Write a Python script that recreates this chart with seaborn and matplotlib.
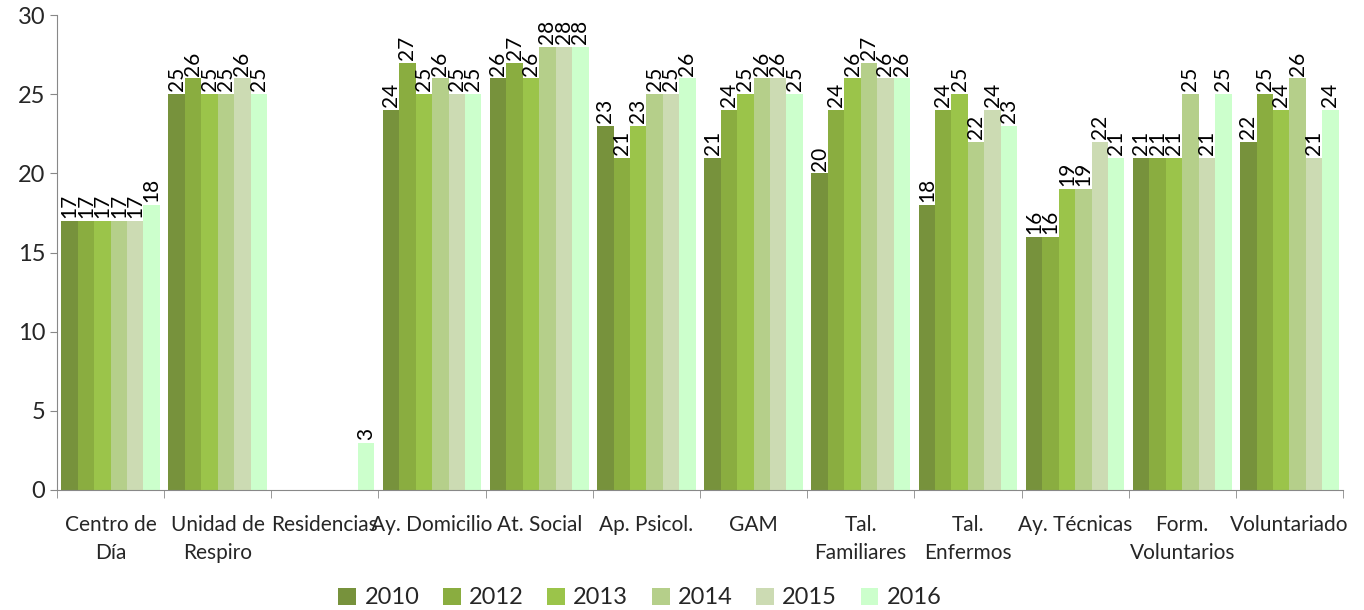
import numpy as np
import pandas as pd
import matplotlib
matplotlib.use("Agg")
import matplotlib.pyplot as plt
import seaborn as sns

categories = ["Centro de\nDía", "Unidad de\nRespiro", "Residencias", "Ay. Domicilio",
              "At. Social", "Ap. Psicol.", "GAM", "Tal.\nFamiliares", "Tal.\nEnfermos",
              "Ay. Técnicas", "Form.\nVoluntarios", "Voluntariado"]
years = ["2010", "2012", "2013", "2014", "2015", "2016"]
v2010 = [17, 25, np.nan, 24, 26, 23, 21, 20, 18, 16, 21, 22]
v2012 = [17, 26, np.nan, 27, 27, 21, 24, 24, 24, 16, 21, 25]
v2013 = [17, 25, np.nan, 25, 26, 23, 25, 26, 25, 19, 21, 24]
v2014 = [17, 25, np.nan, 26, 28, 25, 26, 27, 22, 19, 25, 26]
v2015 = [17, 26, np.nan, 25, 28, 25, 26, 26, 24, 22, 21, 21]
v2016 = [18, 25, 3, 25, 28, 26, 25, 26, 23, 21, 25, 24]
series = [v2010, v2012, v2013, v2014, v2015, v2016]
colors = ["#77923C", "#8AAD40", "#9BC44A", "#B5CF8A", "#CCDBB3", "#CCFFCC"]

rows = []
for y, vals in zip(years, series):
    for c, v in zip(categories, vals):
        rows.append({"cat": c, "year": y, "value": v})
df = pd.DataFrame(rows)

sns.set_style("white")
plt.rcParams["font.family"] = ["Lato", "DejaVu Sans"]

fig = plt.figure(figsize=(13.64, 6.10), dpi=100)
ax = fig.add_axes([57/1364, 1-490/610, (1343-57)/1364, 475/610])
sns.barplot(data=df, x="cat", y="value", hue="year", order=categories,
            hue_order=years, palette=colors, width=0.92, ax=ax,
            saturation=1, errorbar=None, legend=True, linewidth=0)

for cont in ax.containers:
    labels = ["" if np.isnan(v) else f"{v:.0f}" for v in cont.datavalues]
    ax.bar_label(cont, labels=labels, rotation=90, padding=2, fontsize=15, color="black")

ax.set_ylim(0, 30)
ax.set_xlim(-0.5, 11.5)
ax.set_yticks(range(0, 31, 5))
ax.tick_params(axis="y", labelsize=17, length=5, color="#888888", direction="out", left=True)
ax.set_xticks(np.arange(len(categories)))
ax.set_xticklabels(categories, fontsize=15, linespacing=1.5)
ax.set_xticks(np.arange(-0.5, 12, 1), minor=True)
ax.tick_params(axis="x", which="major", length=0, pad=18)
ax.tick_params(axis="x", which="minor", length=6, color="#888888", bottom=True)
ax.set_xlabel("")
ax.set_ylabel("")
for s in ["top", "right"]:
    ax.spines[s].set_visible(False)
for s in ["left", "bottom"]:
    ax.spines[s].set_color("#888888")

handles, labels = ax.get_legend_handles_labels()
ax.legend(handles, labels, loc="center", bbox_to_anchor=(640/1364, 12/610),
          bbox_transform=fig.transFigure,
          ncol=6, frameon=False, fontsize=17, handlelength=0.75, handleheight=0.75,
          handletextpad=0.35, columnspacing=1.0, borderpad=0)

fig.savefig("out.png", dpi=100)
